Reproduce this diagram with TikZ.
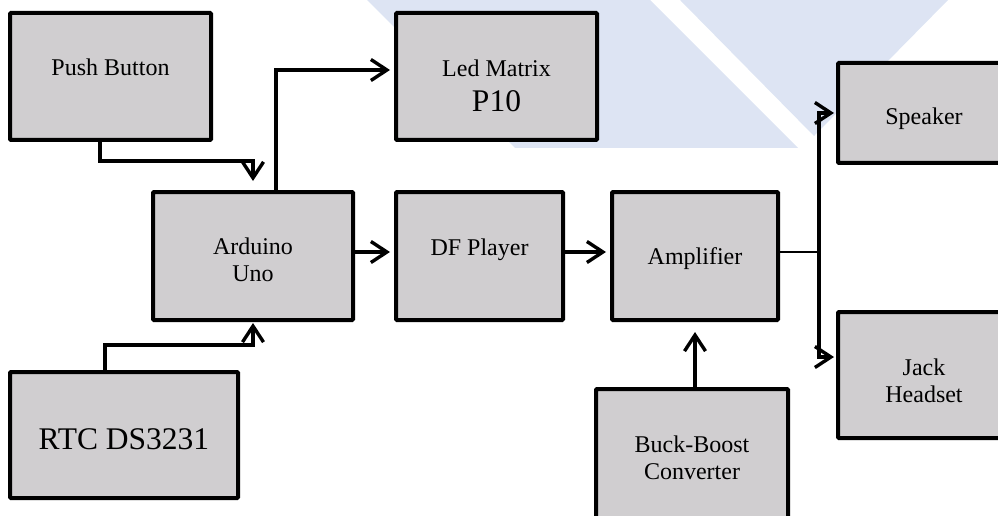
\documentclass[tikz,border=0pt]{standalone}
\usepackage{fontspec}
\setmainfont{Liberation Serif}
\usetikzlibrary{positioning}
\usetikzlibrary{arrows.meta}
\definecolor{markBlue}{RGB}{221,228,243}
\definecolor{boxGray}{RGB}{208,206,208}
\newcommand{\bigSize}{\fontsize{31.5}{36}\selectfont}
\tikzset{
    blockBox/.style={draw=black, fill=boxGray, line width=4pt, rounded corners=1pt, inner sep=0pt},
    boxText/.style={align=center, inner sep=0pt, font=\fontsize{24}{27.5}\selectfont},
    bigText/.style={boxText, font=\bigSize},
    link/.style={->, line width=3.4pt}
}

\begin{document}
\begin{tikzpicture}[x=1pt, y=1pt, >={Straight Barb[length=16pt,width=21pt,line width=3.4pt]}]
			\useasboundingbox (0,0) rectangle (998,515);
			% background mark
			\fill[markBlue] (367,515) -- (650,515) -- (798,367) -- (515,367) -- cycle;
			\fill[markBlue] (680,515) -- (948,515) -- (814,379) -- cycle;
			\node[blockBox, minimum width=201pt, minimum height=127pt,
				label={[boxText, yshift=9.5pt]center:Push Button}] (push) at(110.5,438.5) {};
			\node[blockBox, minimum width=201pt, minimum height=127pt,
				label={[boxText, yshift=-9.5pt]center:Led Matrix\\[7pt]{\bigSize P10}}] (led) at(496.5,438.5) {};
			\node[blockBox, minimum width=200pt, minimum height=128pt,
				label={[boxText, yshift=-4pt]center:Arduino\\Uno}] (ard) at(253,259) {};
			\node[blockBox, minimum width=167pt, minimum height=128pt,
				label={[boxText, yshift=6.5pt]center:DF Player}] (df) at(479.5,259) {};
			\node[blockBox, minimum width=166pt, minimum height=128pt,
				label={[boxText, yshift=-3pt]center:Amplifier}] (amp) at(695,259) {};
			\node[blockBox, minimum width=172pt, minimum height=100pt,
				label={[boxText, yshift=-6pt]center:Speaker}] (spk) at(924,402) {};
			\node[blockBox, minimum width=172pt, minimum height=126pt,
				label={[boxText, yshift=-6pt]center:Jack\\Headset}] (jack) at(924,140) {};
			\node[blockBox, minimum width=228pt, minimum height=126pt,
				label={[bigText, yshift=-4pt]center:RTC DS3231}] (rtc) at(124,80) {};
			\node[blockBox, minimum width=192pt, minimum height=138pt,
				label={[boxText]center:Buck-Boost\\Converter}] (buck) at(692,57) {};
			\draw[link, shorten >=9pt] ([xshift=-10.5pt]push.south) |- ([yshift=29pt]ard.north) -- (ard.north);
			\draw[link, shorten >=4pt] ([xshift=23pt]ard.north) |- ([yshift=6.5pt]led.west);
			\draw[link, shorten >=1pt] ([xshift=-19pt]rtc.north) |- ([yshift=-23pt]ard.south) -- (ard.south);
			\draw[link, shorten >=4pt] ([yshift=4pt]ard.east) -- ([yshift=4pt]df.west);
			\draw[link, shorten >=4pt] ([yshift=4pt]df.east) -- ([yshift=4pt]amp.west);
			\draw[line width=2.6pt] ([yshift=4pt]amp.east) -- ++(39,0) coordinate (split);
			\draw[link, shorten >=2pt] (split) |- (spk.west);
			\draw[link, shorten >=2pt] (split) |- ([yshift=18pt]jack.west);
			\draw[link, shorten >=10pt] (buck.north -| amp.south) -- (amp.south);
	\end{tikzpicture}
\end{document}
